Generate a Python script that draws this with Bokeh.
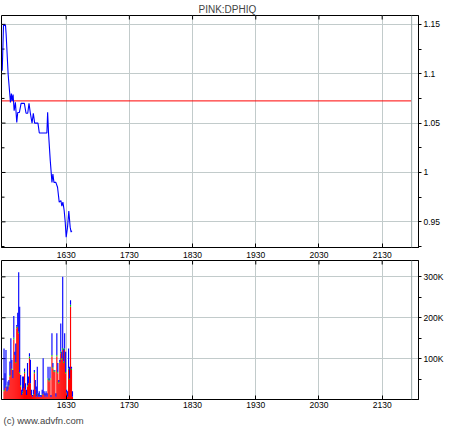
from bokeh.plotting import figure
from bokeh.models import FixedTicker, ColumnDataSource, Span, Title
from bokeh.layouts import column
from bokeh.embed import file_html
from bokeh.resources import INLINE
import numpy as np

# ---------------- data ----------------
title_text = "PINK:DPHIQ"
copyright_text = "(c) www.advfn.com"

tick_minutes = [990, 1050, 1110, 1170, 1230, 1290]
tick_labels = ["1630", "1730", "1830", "1930", "2030", "2130"]
session_start = 928.6
session_end = 1318.0
view_end = 1324.5

price_range = (0.924, 1.159)
price_ticks = [0.95, 1.0, 1.05, 1.1, 1.15]
price_tick_labels = ["0.95", "1", "1.05", "1.1", "1.15"]
price_minor = [0.925, 0.975, 1.025, 1.075, 1.125]
prev_close = 1.0725

vol_range = (0, 340000)
vol_ticks = [100000, 200000, 300000]
vol_tick_labels = ["100K", "200K", "300K"]
vol_minor = [50000, 150000, 250000]

price_t = [929.3, 930.5, 932.4, 933.0, 934.9, 936.5, 937.1, 938.0, 938.7, 939.6,
           940.6, 941.8, 943.1, 944.0, 945.6, 947.2, 950.3, 951.9, 953.5, 954.7,
           956.0, 957.6, 958.8, 960.1, 963.2, 964.5, 971.7, 972.4, 973.3, 974.9,
           976.5, 977.4, 978.4, 980.2, 981.8, 983.4, 985.0, 985.9, 986.9, 988.1,
           989.1, 990.0, 991.3, 992.5, 993.8, 994.7, 995.4]
price = [1.103, 1.149, 1.149, 1.14, 1.0995, 1.079, 1.071, 1.08, 1.0725, 1.079,
         1.0625, 1.071, 1.0507, 1.0608, 1.0608, 1.07, 1.07, 1.06, 1.06, 1.07,
         1.06, 1.05, 1.06, 1.05, 1.05, 1.04, 1.04, 1.061, 1.039, 1.012,
         0.99, 0.9985, 0.99, 0.99, 0.985, 0.97, 0.9715, 0.966, 0.97, 0.9615,
         0.9497, 0.9345, 0.9446, 0.961, 0.9446, 0.9396, 0.941]

# volume per bar, thousands of shares
vol_total = [125, 64, 121, 32, 44, 48, 93, 150, 97, 72, 204, 117, 137, 182, 212, 311, 227, 60, 24, 56,
             56, 76, 40, 24, 89, 56, 113, 97, 24, 11, 24, 72, 48, 32, 80, 15, 20, 11,
             11, 24, 101, 20, 15, 20, 15, 80, 52, 80, 11, 162, 89, 72, 72, 15, 162, 89, 48, 97,
             186, 117, 300, 125, 162, 117, 24, 20, 125, 80, 243, 80, 20]
vol_red = [20, 28, 32, 20, 24, 32, 56, 89, 72, 52, 147, 109, 89, 174, 178, 162, 64, 32, 11, 15,
           28, 64, 24, 11, 32, 40, 101, 40, 11, 7, 11, 64, 24, 7, 11, 7, 7, 7,
           6, 11, 15, 11, 7, 11, 7, 48, 44, 48, 6, 105, 76, 68, 68, 7, 105, 64, 40, 89,
           113, 97, 121, 89, 121, 64, 15, 7, 72, 48, 227, 72, 7]
vol_green = [3, 0, 2, 0, 0, 3, 4, 0, 3, 0, 4, 0, 3, 4, 0, 4, 3, 3, 0, 4,
             0, 4, 0, 0, 3, 0, 4, 0, 0, 0, 2, 3, 0, 0, 3, 0, 0, 0,
             0, 2, 0, 0, 0, 0, 0, 4, 3, 4, 0, 4, 3, 3, 3, 0, 4, 3, 3, 3,
             4, 4, 5, 4, 4, 3, 2, 0, 4, 3, 5, 3, 0]
bar_first, bar_last = 931.0, 996.0

# ---------------- styling ----------------
FONT = "Liberation Sans"
GRID = "#c2cbcb"
LBL = "8.5px"

n = len(vol_total)
bar_t = np.linspace(bar_first, bar_last, n)
bar_w = (bar_last - bar_first) / (n - 1) * 1.15
red = np.array(vol_red) * 1000.0
green = np.array(vol_green) * 1000.0
blue = (np.array(vol_total) - np.array(vol_red) - np.array(vol_green)) * 1000.0
vsrc = ColumnDataSource(dict(t=bar_t, red=red, green=green, blue=blue))

xticker = FixedTicker(ticks=tick_minutes)
xlabels = {t: l for t, l in zip(tick_minutes, tick_labels)}


def base_axis(ax):
    ax.axis_line_color = "black"
    ax.major_tick_line_color = "black"
    ax.minor_tick_line_color = "black"
    ax.major_label_text_font = FONT
    ax.major_label_text_font_size = LBL
    ax.major_label_text_color = "black"


def make_fig(frame_h, yr, yticks, yminor, ylabels, x_standoff):
    p = figure(frame_width=417, frame_height=frame_h,
               x_range=(session_start, view_end), y_range=yr,
               toolbar_location=None, output_backend="svg",
               x_axis_location="below", y_axis_location="right",
               min_border_left=1, min_border_right=0,
               min_border_top=0, min_border_bottom=0,
               outline_line_color="black", background_fill_color="white")
    # bottom x axis with labels, ticks inward
    xa = p.xaxis[0]
    base_axis(xa)
    xa.ticker = xticker
    xa.major_label_overrides = xlabels
    xa.major_tick_in = 4
    xa.major_tick_out = 0
    xa.minor_tick_in = 0
    xa.minor_tick_out = 0
    xa.major_label_standoff = x_standoff
    # right y axis with labels, ticks outward
    ya = p.yaxis[0]
    base_axis(ya)
    ya.ticker = FixedTicker(ticks=yticks, minor_ticks=yminor)
    ya.major_label_overrides = {t: l for t, l in zip(yticks, ylabels)}
    ya.major_tick_in = 0
    ya.major_tick_out = 3
    ya.minor_tick_in = 0
    ya.minor_tick_out = 3
    ya.major_label_standoff = 2
    # grids
    p.xgrid.ticker = xticker
    p.ygrid.ticker = FixedTicker(ticks=yticks)
    for g in (p.xgrid, p.ygrid):
        g.grid_line_color = GRID
        g.grid_line_width = 1
    p.add_layout(Span(location=session_end, dimension="height",
                      line_color="#9aa8a8", line_width=1))
    # inward ticks on the top edge and on the left edge (no labels there)
    p.scatter(x=tick_minutes, y=[yr[1]] * len(tick_minutes), marker="dash",
              size=8, angle=np.pi / 2, line_color="black", line_width=1)
    p.scatter(x=[session_start] * len(yticks), y=yticks, marker="dash",
              size=8, line_color="black", line_width=1)
    p.scatter(x=[session_start] * len(yminor), y=yminor, marker="dash",
              size=6, line_color="black", line_width=1)
    return p


p1 = make_fig(232, price_range, price_ticks, price_minor, price_tick_labels, 4)
p1.title.text = title_text
p1.title.align = "left"
p1.title.offset = 197
p1.title.text_font = FONT
p1.title.text_font_size = "10px"
p1.title.text_font_style = "normal"
p1.title.standoff = 2

p1.segment(x0=[session_start], y0=[prev_close], x1=[session_end], y1=[prev_close],
           line_color="#ff0000", line_width=1)
p1.line(price_t, price, line_color="#0000ff", line_width=1.1)

p2 = make_fig(139, vol_range, vol_ticks, vol_minor, vol_tick_labels, 2)
p2.vbar_stack(["red", "green", "blue"], x="t", width=bar_w,
              color=["#ff0000", "#00cc00", "#0000ff"], line_color=None, source=vsrc)
cp = Title(text=copyright_text, align="left", text_font=FONT, text_font_size="9.5px",
           text_font_style="normal", standoff=4, offset=2)
p2.add_layout(cp, "below")

layout = column(p1, p2, spacing=0)
open("out.html", "w").write(file_html(layout, INLINE))
